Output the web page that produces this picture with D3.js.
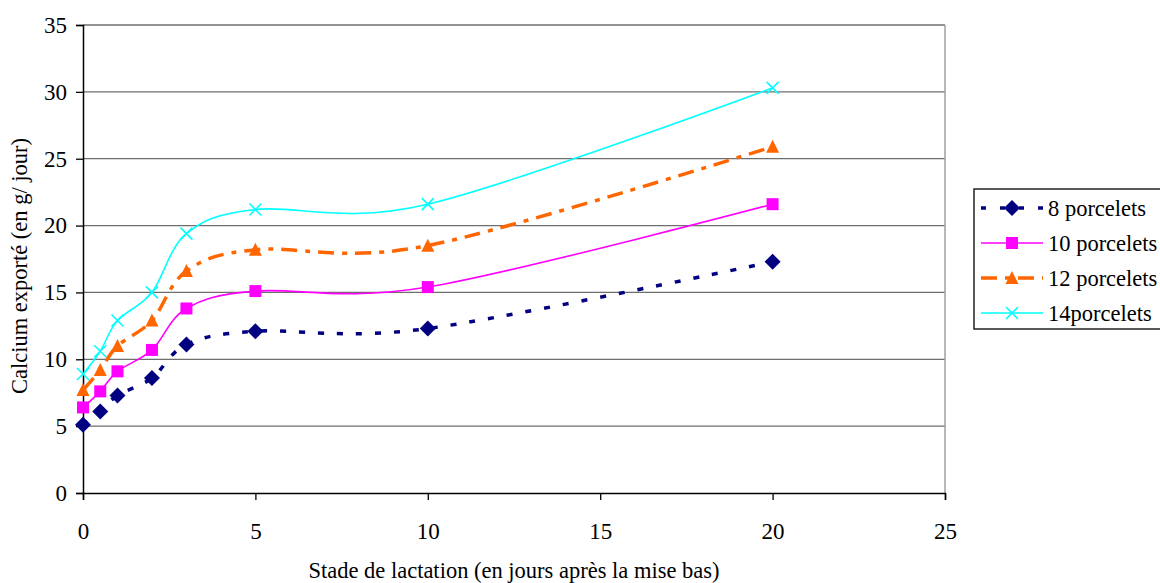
<!DOCTYPE html>
<html>
<head>
  <meta charset="utf-8">
  <title>Calcium exporte</title>
  <script src="https://d3js.org/d3.v7.min.js"></script>
</head>
<body style="margin:0; background:#fff">
  <svg id="graphique" width="1160" height="583"></svg>
  <script>
    "use strict"

    // donnees
    var jours = [0, 0.5, 1, 2, 3, 5, 10, 20];
    var porc8 = [5.1, 6.1, 7.3, 8.6, 11.1, 12.1, 12.3, 17.3];
    var porc10 = [6.4, 7.6, 9.1, 10.7, 13.8, 15.1, 15.4, 21.6];
    var porc12 = [7.7, 9.2, 11.0, 12.9, 16.6, 18.2, 18.5, 25.9];
    var porc14 = [8.9, 10.6, 12.9, 15.0, 19.4, 21.2, 21.6, 30.3];
    var nomsSeries = ["8 porcelets", "10 porcelets", "12 porcelets", "14porcelets"];
    var ticksX = [0, 5, 10, 15, 20, 25];
    var ticksY = [0, 5, 10, 15, 20, 25, 30, 35];

    var police = "Liberation Serif";
    var larguraSVG = 1160, alturaSVG = 583;
    var margin = {top: 25, left: 83, right: 215, bottom: 90};
    var largVis = larguraSVG - margin.left - margin.right,
        hautVis = alturaSVG - margin.top - margin.bottom;

    var svg = d3.select("#graphique");

    var g = svg.append("g")
      .attr("transform", "translate(" + margin.left + "," + margin.top + ")");

    var x = d3.scaleLinear().domain([0, 25]).range([0, largVis]);
    var y = d3.scaleLinear().domain([0, 35]).range([hautVis, 0]);

    // grille horizontale
    g.selectAll("line.grid")
      .data(ticksY.slice(1))
      .enter().append("line")
        .attr("class", "grid")
        .attr("x1", 0).attr("x2", largVis)
        .attr("y1", d => y(d)).attr("y2", d => y(d))
        .attr("stroke", "#6e6e6e").attr("stroke-width", 1.3);

    // bord droit
    g.append("line")
      .attr("x1", largVis).attr("x2", largVis)
      .attr("y1", 0).attr("y2", hautVis)
      .attr("stroke", "#a0a0a0").attr("stroke-width", 1.5);

    // axes
    var axeX = g.append("g")
      .attr("transform", "translate(0," + hautVis + ")")
      .call(d3.axisBottom(x).tickValues(ticksX).tickSize(7).tickPadding(23));
    var axeY = g.append("g")
      .call(d3.axisLeft(y).tickValues(ticksY).tickSize(7).tickPadding(9));

    [axeX, axeY].forEach(function(a) {
      a.attr("font-family", police).attr("font-size", 23);
      a.select(".domain").attr("stroke", "#000").attr("stroke-width", 1.5);
      a.selectAll(".tick line").attr("stroke", "#000").attr("stroke-width", 1.3);
      a.selectAll("text").attr("fill", "#000");
    });

    var series = [
      {nom: nomsSeries[0], vals: porc8, couleur: "#000080", largeur: 3.5, tirets: "6,13", marque: "diamant"},
      {nom: nomsSeries[1], vals: porc10, couleur: "#FF00FF", largeur: 1.6, tirets: null, marque: "carre"},
      {nom: nomsSeries[2], vals: porc12, couleur: "#FF6600", largeur: 3.5, tirets: "16,8,5,8", marque: "triangle"},
      {nom: nomsSeries[3], vals: porc14, couleur: "#00FFFF", largeur: 1.6, tirets: null, marque: "croix"}
    ];

    var ligne = d3.line()
      .x(d => x(d[0]))
      .y(d => y(d[1]))
      .curve(d3.curveCatmullRom.alpha(0));

    function dessineMarque(sel, s, cx, cy) {
      if (s.marque === "diamant") {
        sel.append("path").attr("d", "M" + cx + "," + (cy - 8) + "L" + (cx + 8) + "," + cy +
          "L" + cx + "," + (cy + 8) + "L" + (cx - 8) + "," + cy + "Z").attr("fill", s.couleur);
      } else if (s.marque === "carre") {
        sel.append("rect").attr("x", cx - 6).attr("y", cy - 6).attr("width", 12).attr("height", 12)
          .attr("fill", s.couleur);
      } else if (s.marque === "triangle") {
        sel.append("path").attr("d", "M" + cx + "," + (cy - 7) + "L" + (cx + 6.5) + "," + (cy + 6) +
          "L" + (cx - 6.5) + "," + (cy + 6) + "Z").attr("fill", s.couleur);
      } else {
        sel.append("path").attr("d", "M" + (cx - 6) + "," + (cy - 6) + "L" + (cx + 6) + "," + (cy + 6) +
          "M" + (cx + 6) + "," + (cy - 6) + "L" + (cx - 6) + "," + (cy + 6))
          .attr("stroke", s.couleur).attr("stroke-width", 1.6).attr("fill", "none");
      }
    }

    series.forEach(function(s) {
      var pts = jours.map((j, i) => [j, s.vals[i]]);
      g.append("path")
        .datum(pts)
        .attr("d", ligne)
        .attr("fill", "none")
        .attr("stroke", s.couleur)
        .attr("stroke-width", s.largeur)
        .attr("stroke-dasharray", s.tirets);
      var gm = g.append("g");
      pts.forEach(p => dessineMarque(gm, s, x(p[0]), y(p[1])));
    });

    // legende
    var leg = svg.append("g").attr("transform", "translate(974,189)");
    leg.append("rect").attr("x", 0).attr("y", 0).attr("width", 200).attr("height", 140)
      .attr("fill", "#fff").attr("stroke", "#000").attr("stroke-width", 1.3);
    series.forEach(function(s, i) {
      var yy = 19 + i * 35;
      leg.append("line")
        .attr("x1", 7).attr("x2", 69).attr("y1", yy).attr("y2", yy)
        .attr("stroke", s.couleur).attr("stroke-width", s.largeur)
        .attr("stroke-dasharray", s.tirets ? (i === 0 ? "5,14" : "16,8,5,8") : null);
      dessineMarque(leg, s, 38, yy);
      leg.append("text").attr("x", 74).attr("y", yy + 8)
        .attr("font-family", police).attr("font-size", 22.5).text(s.nom);
    });

    // titres des axes
    svg.append("text")
      .attr("x", margin.left + largVis / 2).attr("y", 578)
      .attr("text-anchor", "middle")
      .attr("font-family", police).attr("font-size", 22.5)
      .text("Stade de lactation (en jours après la mise bas)");

    svg.append("text")
      .attr("transform", "translate(27,266) rotate(-90)")
      .attr("text-anchor", "middle")
      .attr("font-family", police).attr("font-size", 22.5)
      .text("Calcium exporté (en g/ jour)");
  </script>
</body>
</html>
